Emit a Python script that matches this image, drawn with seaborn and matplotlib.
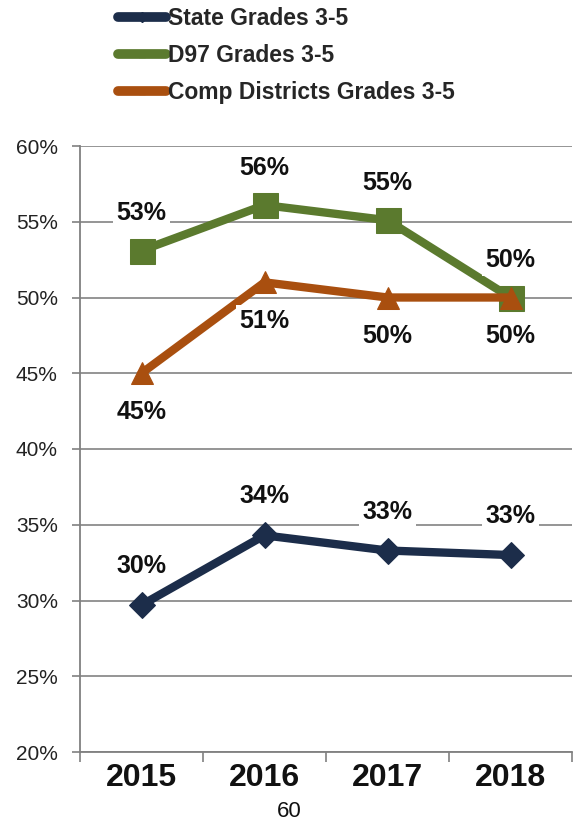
import numpy as np
import pandas as pd
import matplotlib.pyplot as plt
import seaborn as sns
from matplotlib.lines import Line2D
from matplotlib.ticker import FixedLocator

years = ['2015', '2016', '2017', '2018']
series_names = ['State Grades 3-5', 'D97 Grades 3-5', 'Comp Districts Grades 3-5']
state = [29.7, 34.3, 33.3, 33.0]
d97 = [53.1, 56.1, 55.1, 50.0]
comp = [45.0, 51.0, 50.0, 50.0]
state_labels = ['30%', '34%', '33%', '33%']
d97_labels = ['53%', '56%', '55%', '50%']
comp_labels = ['45%', '51%', '50%', '50%']
y_ticks = [20, 25, 30, 35, 40, 45, 50, 55, 60]
page_number = '60'


def main():
    sns.set_theme(style='white')
    plt.rcParams['font.family'] = ['Liberation Sans', 'DejaVu Sans']

    colors = ['#1c2d4a', '#5b7a2e', '#a94f0f']
    markers = ['D', 's', '^']
    msizes = [13, 18, 16]
    # how far the value label sits from its point, in points
    offsets = [28, 27, -28]

    fig = plt.figure(figsize=(5.78, 8.32), dpi=100)
    ax = fig.add_axes([80 / 578, 1 - 752 / 832, 492 / 578, 606 / 832])

    xpos = np.arange(len(years))
    all_vals = [state, d97, comp]
    all_labels = [state_labels, d97_labels, comp_labels]

    for name, vals, col, mk, ms in zip(series_names, all_vals, colors, markers, msizes):
        df = pd.DataFrame({'x': xpos, 'y': vals})
        sns.lineplot(data=df, x='x', y='y', ax=ax, color=col, marker=mk,
                     markersize=ms, markeredgecolor=col, linewidth=6,
                     zorder=3, legend=False)

    for vals, labs, off in zip(all_vals, all_labels, offsets):
        for x, v, lab in zip(xpos, vals, labs):
            ax.annotate(lab, (x, v), xytext=(0, off), textcoords='offset points',
                        ha='center', va='center', fontsize=18, fontweight='bold',
                        color='#111111', zorder=5,
                        bbox=dict(boxstyle='square,pad=0.15', fc='white', ec='none'))

    ax.set_xlim(-0.5, 3.5)
    ax.set_ylim(20, 60)
    ax.set_yticks(y_ticks)
    ax.set_yticklabels([f'{t}%' for t in y_ticks], fontsize=15, color='#222222')
    ax.set_xticks(xpos)
    ax.set_xticklabels(years, fontsize=23, fontweight='bold', color='#111111')
    ax.xaxis.set_minor_locator(FixedLocator(np.arange(-0.5, 4, 1)))
    ax.tick_params(axis='x', which='major', length=0, pad=8)
    ax.tick_params(axis='x', which='minor', length=7, width=1.2, color='#808080', bottom=True)
    ax.tick_params(axis='y', length=6, width=1.2, color='#808080', left=True, pad=10)
    ax.set_xlabel('')
    ax.set_ylabel('')

    ax.yaxis.grid(True, color='#8c8c8c', linewidth=1.3)
    ax.set_axisbelow(True)
    for side in ['top', 'right']:
        ax.spines[side].set_visible(False)
    for side in ['left', 'bottom']:
        ax.spines[side].set_color('#808080')
        ax.spines[side].set_linewidth(1.3)

    handles = [Line2D([0], [0], color=c, linewidth=7, marker=m, markersize=5,
                      markeredgecolor=c) for c, m in zip(colors, markers)]
    fig.legend(handles, series_names, loc='upper left', bbox_to_anchor=(109 / 578, 1.003),
               frameon=False, handlelength=2.1, handletextpad=0.08,
               labelspacing=0.62, borderaxespad=0.0, prop={'weight': 'bold', 'size': 16.5})

    fig.text(0.5, 0.025, page_number, ha='center', va='center', fontsize=16, color='#111111')

    fig.savefig('out.png', dpi=100)


if __name__ == '__main__':
    main()
